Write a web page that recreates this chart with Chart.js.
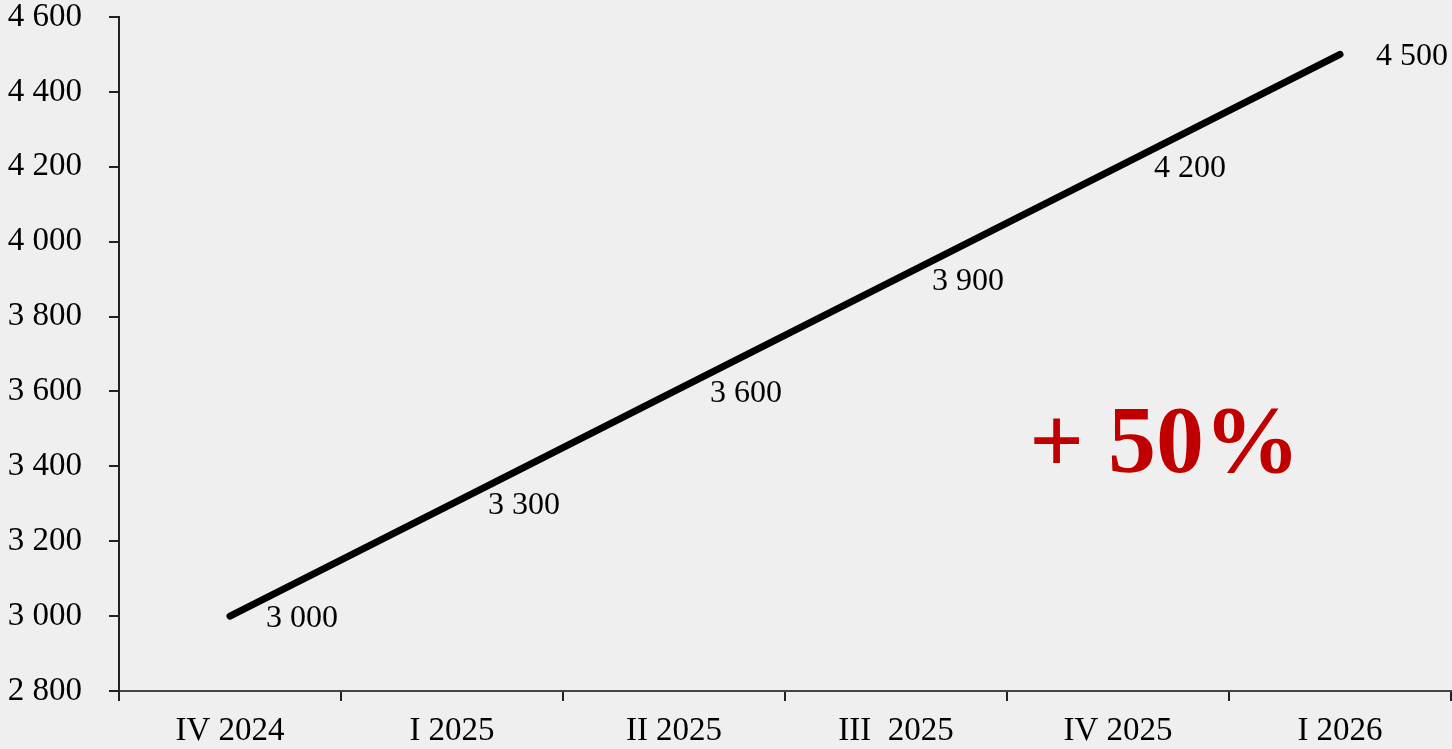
<!DOCTYPE html>
<html>
<head>
<meta charset="utf-8">
<title>Рост показателя</title>
<script src="https://cdn.jsdelivr.net/npm/chart.js@4/dist/chart.umd.min.js"></script>
<style>
  html, body { margin: 0; padding: 0; background: #efefef; }
  #wrap { width: 1452px; height: 749px; }
</style>
</head>
<body>
<div id="wrap"><canvas id="c" width="1452" height="749"></canvas></div>
<script>
// Quarters on the x axis
const quarters = ['IV 2024', 'I 2025', 'II 2025', 'III  2025', 'IV 2025', 'I 2026'];
// Values per quarter
const values = [3000, 3300, 3600, 3900, 4200, 4500];
// Y axis range
const yMin = 2800;
const yMax = 4600;
const yStep = 200;
// Growth callout
const growthText = '+ 50%';
const growthAt = { x: 4.21, y: 3385 };

const SERIF = '"Liberation Serif", "DejaVu Serif", serif';

function spaced(n) {
  return String(n).replace(/\B(?=(\d{3})+(?!\d))/g, ' ');
}

// Value labels drawn to the right of each point, vertically centred
const valueLabels = {
  id: 'valueLabels',
  afterDatasetsDraw(chart) {
    const ctx = chart.ctx;
    const meta = chart.getDatasetMeta(0);
    ctx.save();
    ctx.font = '32px ' + SERIF;
    ctx.fillStyle = '#000';
    ctx.textAlign = 'left';
    ctx.textBaseline = 'middle';
    meta.data.forEach((pt, i) => {
      ctx.fillText(spaced(chart.data.datasets[0].data[i]), pt.x + 36, pt.y + 2);
    });
    ctx.restore();
  }
};

// Large red growth figure
const growthLabel = {
  id: 'growthLabel',
  afterDraw(chart) {
    const ctx = chart.ctx;
    const x = chart.scales.x.getPixelForValue(growthAt.x);
    const y = chart.scales.y.getPixelForValue(growthAt.y);
    ctx.save();
    ctx.font = 'bold 96px ' + SERIF;
    ctx.fillStyle = '#c00000';
    ctx.textAlign = 'center';
    ctx.textBaseline = 'alphabetic';
    ctx.fillText(growthText, x, y);
    ctx.restore();
  }
};

new Chart(document.getElementById('c'), {
  type: 'line',
  data: {
    labels: quarters,
    datasets: [{
      data: values,
      borderColor: '#000',
      borderWidth: 7,
      borderCapStyle: 'round',
      borderJoinStyle: 'round',
      pointRadius: 0,
      pointHoverRadius: 0,
      fill: false,
      tension: 0
    }]
  },
  options: {
    responsive: false,
    animation: false,
    events: [],
    layout: { autoPadding: false, padding: { top: 17, right: 1, left: 0, bottom: 0 } },
    plugins: {
      legend: { display: false },
      tooltip: { enabled: false }
    },
    scales: {
      x: {
        offset: true,
        afterFit(scale) { scale.height = 58; },
        grid: {
          offset: true,
          drawOnChartArea: false,
          drawTicks: true,
          tickLength: 10,
          color: '#222',
          lineWidth: 2
        },
        border: { display: true, color: '#444', width: 2 },
        ticks: {
          color: '#000',
          padding: 12,
          maxRotation: 0,
          autoSkip: false,
          font: { family: SERIF, size: 33, lineHeight: 1.1 }
        }
      },
      y: {
        min: yMin,
        max: yMax,
        afterFit(scale) {
          scale.width = 119;
          scale.paddingTop = 0;
          scale.paddingBottom = 0;
        },
        grid: {
          drawOnChartArea: false,
          drawTicks: true,
          tickLength: 10,
          color: '#222',
          lineWidth: 2
        },
        border: { display: true, color: '#222', width: 2 },
        ticks: {
          stepSize: yStep,
          color: '#000',
          padding: 27,
          font: { family: SERIF, size: 33, lineHeight: 1.0 },
          callback: (v) => spaced(v)
        }
      }
    }
  },
  plugins: [valueLabels, growthLabel]
});
</script>
</body>
</html>
